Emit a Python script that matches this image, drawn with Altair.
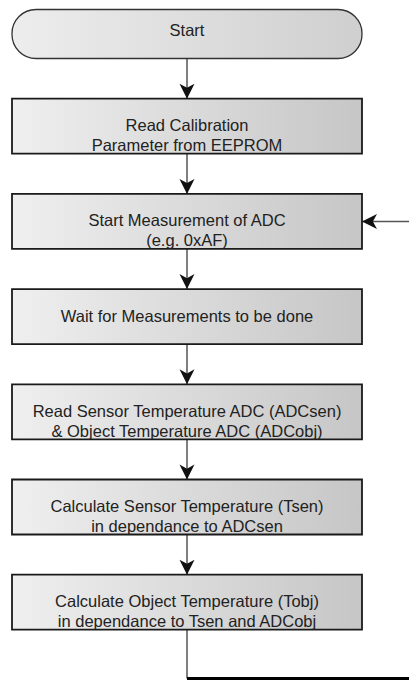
import altair as alt
import pandas as pd

# Flowchart content
steps = [
    "Start",
    "Read Calibration\nParameter from EEPROM",
    "Start Measurement of ADC\n(e.g. 0xAF)",
    "Wait for Measurements to be done",
    "Read Sensor Temperature ADC (ADCsen)\n& Object Temperature ADC (ADCobj)",
    "Calculate Sensor Temperature (Tsen)\nin dependance to ADCsen",
    "Calculate Object Temperature (Tobj)\nin dependance to Tsen and ADCobj",
]
loop_target = 2  # index of the step the loop returns to

# Layout (reference pixel space)
X0, X1 = 12, 362
XC = (X0 + X1) / 2
FIRST_C = 31
STEP = 95.2
H = 55
PAGE_W = 417
W, HT = 401, 673
LOOP_Y = 678.5
ARROW = 15

rows = []
for i, s in enumerate(steps):
    c = FIRST_C + STEP * i
    top = c - H / 2
    if i == 0:
        top = 9.5
    rows.append({"i": i, "label": s, "x0": X0, "x1": X1, "xc": XC,
                 "top": top, "bot": c + H / 2, "c": c})
nodes = pd.DataFrame(rows)

conns = pd.DataFrame([
    {"x": XC, "y": rows[i]["bot"], "y2": rows[i + 1]["top"],
     "ay": rows[i + 1]["top"] - ARROW / 2}
    for i in range(len(rows) - 1)
])

xs = alt.Scale(domain=[8, 8 + W], nice=False, zero=False)
ys = alt.Scale(domain=[8, 8 + HT], nice=False, zero=False, reverse=True)
X = lambda f: alt.X(f, type="quantitative", scale=xs, axis=None)
Y = lambda f: alt.Y(f, type="quantitative", scale=ys, axis=None)

grad_box = alt.Gradient(gradient="linear",
                        stops=[alt.GradientStop(color="#efefef", offset=0),
                               alt.GradientStop(color="#c6c6c6", offset=1)],
                        x1=0, x2=1, y1=0, y2=0)
grad_start = alt.Gradient(gradient="linear",
                          stops=[alt.GradientStop(color="#ededed", offset=0),
                                 alt.GradientStop(color="#cfcfcf", offset=1)],
                          x1=0, x2=1, y1=0, y2=0)

start_rect = alt.Chart(nodes[nodes.i == 0]).mark_rect(
    fill=grad_start, stroke="#333333", strokeWidth=1.3, cornerRadius=24
).encode(x=X("x0"), x2="x1", y=Y("top"), y2="bot")

box_rect = alt.Chart(nodes[nodes.i > 0]).mark_rect(
    fill=grad_box, stroke="#1a1a1a", strokeWidth=1.8
).encode(x=X("x0"), x2="x1", y=Y("top"), y2="bot")

labels = alt.Chart(nodes).transform_calculate(
    lines="split(datum.label, '\\n')"
).mark_text(
    font="Liberation Sans", fontSize=16.5, color="#222222",
    lineHeight=20, align="center", baseline="middle"
).encode(x=X("xc"), y=Y("c"), text="lines:N")

vlines = alt.Chart(conns).mark_rule(color="#555555", strokeWidth=1.5).encode(
    x=X("x"), y=Y("y"), y2="y2")

down_path = "M0,1 L-1,-1 L0,-0.45 L1,-1 Z"
heads = alt.Chart(conns).mark_point(
    shape=down_path, filled=True, fill="#111111", size=ARROW * ARROW, opacity=1, strokeWidth=0
).encode(x=X("x"), y=Y("ay"))

last = rows[-1]
tgt = rows[loop_target]
loop_v = alt.Chart(pd.DataFrame([{"x": XC, "y": last["bot"], "y2": LOOP_Y}])).mark_rule(
    color="#555555", strokeWidth=1.5).encode(x=X("x"), y=Y("y"), y2="y2")
loop_h = alt.Chart(pd.DataFrame([{"x": XC, "x2": PAGE_W, "y": LOOP_Y}])).mark_rule(
    color="#000000", strokeWidth=3).encode(x=X("x"), x2="x2", y=Y("y"))
back_h = alt.Chart(pd.DataFrame([{"x": X1, "x2": PAGE_W, "y": tgt["c"]}])).mark_rule(
    color="#555555", strokeWidth=1.5).encode(x=X("x"), x2="x2", y=Y("y"))
left_path = "M-1,0 L1,-1 L0.45,0 L1,1 Z"
back_head = alt.Chart(pd.DataFrame([{"x": X1 + ARROW / 2, "y": tgt["c"]}])).mark_point(
    shape=left_path, filled=True, fill="#111111", size=ARROW * ARROW, opacity=1, strokeWidth=0
).encode(x=X("x"), y=Y("y"))

chart = alt.layer(
    vlines, loop_v, loop_h, back_h, start_rect, box_rect, labels, heads, back_head
).properties(
    width=W, height=HT, padding=0,
    autosize=alt.AutoSizeParams(type="none")
).configure_view(strokeWidth=0)

chart.save("out.html", embed_options={"renderer": "svg", "actions": False})
